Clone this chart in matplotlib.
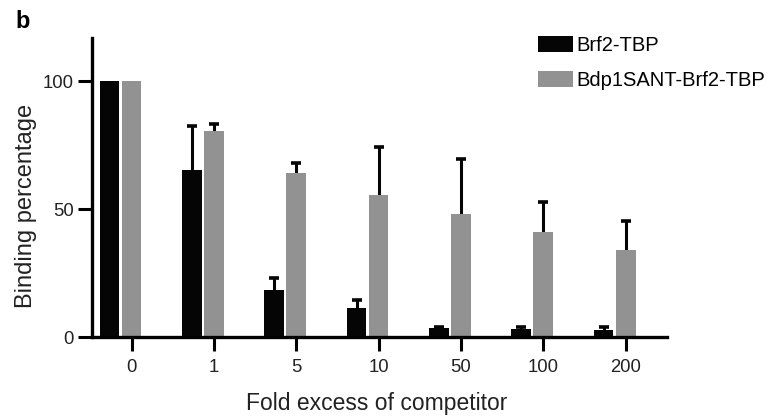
import numpy as np
import matplotlib.pyplot as plt
from matplotlib.patches import Patch

plt.rcParams["font.family"] = ["Liberation Sans", "DejaVu Sans"]

# Values
categories = ["0", "1", "5", "10", "50", "100", "200"]
brf2 = [100, 65.5, 18.5, 11.5, 3.5, 3.0, 2.8]
brf2_err = [0, 17, 4.5, 3.0, 0.5, 0.8, 1.2]
bdp1 = [100, 80.5, 64, 55.5, 48, 41, 34]
bdp1_err = [0, 2.8, 4.0, 19, 21.5, 12, 11.5]

BLACK = "#050505"
GRAY = "#929292"

x = np.arange(len(categories))
width = 0.24
offset = 0.268

fig = plt.figure(figsize=(7.81, 4.17), dpi=100)
ax = fig.add_axes([0.1178, 0.1918, 0.736, 0.717])


def upper_errors(xpos, vals, errs):
    # only the upper whisker, like the original figure
    xs = [xi for xi, e in zip(xpos, errs) if e > 0]
    lo = [v for v, e in zip(vals, errs) if e > 0]
    hi = [v + e for v, e in zip(vals, errs) if e > 0]
    ax.vlines(xs, lo, hi, color=BLACK, lw=2.2, zorder=1)
    ax.plot(xs, hi, ls="none", marker="_", ms=7.5, mew=2.6, color=BLACK, zorder=1)


ax.bar(x - offset, brf2, width, color=BLACK, zorder=2)
ax.bar(x, bdp1, width, color=GRAY, zorder=2)
upper_errors(x - offset, brf2, brf2_err)
upper_errors(x, bdp1, bdp1_err)

ax.set_xlim(-0.48, 6.5)
ax.set_ylim(0, 117)
ax.set_yticks([0, 50, 100])
ax.set_xticks(x)
ax.set_xticklabels(categories)

for s in ["top", "right"]:
    ax.spines[s].set_visible(False)
for s in ["left", "bottom"]:
    ax.spines[s].set_linewidth(2.4)
ax.tick_params(axis="both", length=10, width=2.2, labelsize=13.3,
               labelcolor="#222222", direction="out")
ax.tick_params(axis="y", pad=3)
ax.tick_params(axis="x", pad=6)

ax.set_ylabel("Binding percentage", fontsize=17, color="#222222")
ax.yaxis.set_label_coords(-0.096, 0.44)
ax.set_xlabel("Fold excess of competitor", fontsize=16.5, color="#222222",
              va="center")
ax.xaxis.set_label_coords(0.496, -0.221)

handles = [Patch(facecolor=BLACK, label="Brf2-TBP"),
           Patch(facecolor=GRAY, label="Bdp1SANT-Brf2-TBP")]
fig.legend(handles=handles, loc="upper left", bbox_to_anchor=(0.678, 0.933),
           frameon=False, fontsize=14.5, handlelength=1.75, handleheight=0.8,
           handletextpad=0.2, labelspacing=0.8, borderaxespad=0)

fig.text(0.02, 0.975, "b", fontsize=17, fontweight="bold", va="top")

plt.savefig("out.png", dpi=100)
